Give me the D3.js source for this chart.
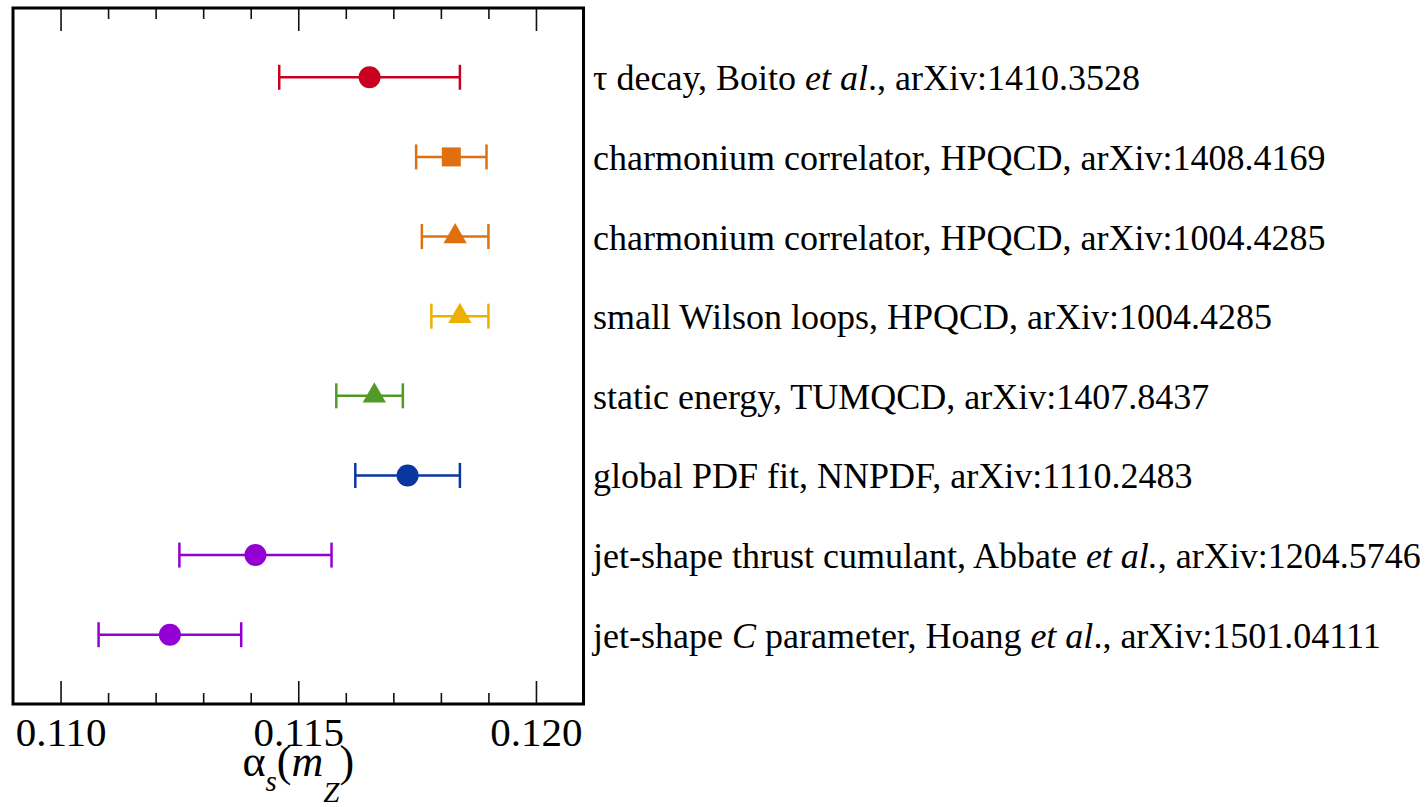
<!DOCTYPE html>
<html>
<head>
<meta charset="utf-8">
<script src="https://cdn.jsdelivr.net/npm/d3@7"></script>
<style>
  body { margin: 0; background: #fff; }
</style>
</head>
<body>
<div id="chart"></div>
<script>
// Determinations of alpha_s(mZ), top to bottom
const labels = [
    [["τ decay, Boito ", false], ["et al", true], ["., arXiv:1410.3528", false]],
    [["charmonium correlator, HPQCD, arXiv:1408.4169", false]],
    [["charmonium correlator, HPQCD, arXiv:1004.4285", false]],
    [["small Wilson loops, HPQCD, arXiv:1004.4285", false]],
    [["static energy, TUMQCD, arXiv:1407.8437", false]],
    [["global PDF fit, NNPDF, arXiv:1110.2483", false]],
    [["jet-shape thrust cumulant, Abbate ", false], ["et al.", true], [", arXiv:1204.5746", false]],
    [["jet-shape ", false], ["C", true], [" parameter, Hoang ", false], ["et al", true], ["., arXiv:1501.04111", false]]
];
const centers = [0.1165, 0.11822, 0.1183, 0.1184, 0.1166, 0.1173, 0.1141, 0.1123];
const lows    = [0.1146, 0.11748, 0.1176, 0.1178, 0.1158, 0.1162, 0.1125, 0.1108];
const highs   = [0.1184, 0.11896, 0.1190, 0.1190, 0.1172, 0.1184, 0.1157, 0.1138];
const colors  = ["#c8001e", "#e0700f", "#e0700f", "#ebb000", "#519a2a", "#0a36a0", "#9400d3", "#9400d3"];
const shapes  = ["circle", "square", "triangle", "triangle", "triangle", "circle", "circle", "circle"];

const majorTicks = [0.110, 0.115, 0.120];
const minorTicks = [0.111, 0.112, 0.113, 0.114, 0.116, 0.117, 0.118, 0.119];

const width = 1425, height = 807;
const frame = { left: 13, top: 8, right: 583.5, bottom: 704 };
const serif = 'Liberation Serif, Times New Roman, DejaVu Serif, serif';

const svg = d3.select('#chart').append('svg')
    .attr('width', width)
    .attr('height', height)
    .attr('font-family', serif);

svg.append('rect').attr('width', width).attr('height', height).attr('fill', '#fff');

const x = d3.scaleLinear()
    .domain([0.109, 0.121])
    .range([frame.left, frame.right]);

const y = d3.scalePoint()
    .domain(d3.range(labels.length))
    .range([frame.top, frame.bottom])
    .padding(0.87);

// ticks on bottom and top edges (pointing inward)
function drawTicks(axisFn, ypos, values, len, fmt) {
    const g = svg.append('g')
        .attr('transform', `translate(0,${ypos})`)
        .call(axisFn(x).tickValues(values).tickSize(-len).tickSizeOuter(0).tickFormat(fmt));
    g.attr('font-family', serif);
    g.select('.domain').remove();
    g.selectAll('.tick line').attr('stroke', '#111').attr('stroke-width', 1.6);
    return g;
}
drawTicks(d3.axisBottom, frame.bottom, minorTicks, 11, () => '');
drawTicks(d3.axisTop, frame.top, minorTicks, 11, () => '');
drawTicks(d3.axisTop, frame.top, majorTicks, 23, () => '');
const bottomMajor = drawTicks(d3.axisBottom, frame.bottom, majorTicks, 23, d3.format('.3f'));
bottomMajor.selectAll('.tick text')
    .attr('y', 42)
    .attr('dy', 0)
    .attr('font-size', 41)
    .attr('font-family', serif)
    .attr('fill', '#000');

// axis title alpha_s(m_Z)
const title = svg.append('text')
    .attr('x', x(0.115))
    .attr('y', 776)
    .attr('text-anchor', 'middle')
    .attr('font-family', serif)
    .attr('font-size', 44);
title.append('tspan').text('α');
title.append('tspan').attr('font-size', 29).attr('font-style', 'italic').attr('dy', 15).text('s');
title.append('tspan').attr('dy', -15).text('(');
title.append('tspan').attr('font-style', 'italic').text('m');
title.append('tspan').attr('font-size', 29).attr('font-style', 'italic').attr('dy', 26).text('Z');
title.append('tspan').attr('dy', -26).text(')');

// error bars
const rows = svg.append('g').selectAll('g')
    .data(centers.map((c, i) => i))
    .join('g')
    .attr('transform', i => `translate(0,${y(i)})`);

rows.append('line')
    .attr('x1', i => x(lows[i]))
    .attr('x2', i => x(highs[i]))
    .attr('stroke', i => colors[i])
    .attr('stroke-width', 2.5);

rows.append('line')
    .attr('x1', i => x(lows[i])).attr('x2', i => x(lows[i]))
    .attr('y1', -12.5).attr('y2', 12.5)
    .attr('stroke', i => colors[i])
    .attr('stroke-width', 2.5);

rows.append('line')
    .attr('x1', i => x(highs[i])).attr('x2', i => x(highs[i]))
    .attr('y1', -12.5).attr('y2', 12.5)
    .attr('stroke', i => colors[i])
    .attr('stroke-width', 2.5);

// markers
const symbolTypes = { circle: d3.symbolCircle, square: d3.symbolSquare, triangle: d3.symbolTriangle };
const symbolSizes = { circle: Math.PI * 11 * 11, square: 19 * 19, triangle: 235 };
rows.append('path')
    .attr('transform', i => `translate(${x(centers[i])},0)`)
    .attr('d', i => d3.symbol().type(symbolTypes[shapes[i]]).size(symbolSizes[shapes[i]])())
    .attr('fill', i => colors[i]);

// labels to the right of the frame
const labelText = svg.append('g').selectAll('text')
    .data(labels)
    .join('text')
    .attr('x', 593)
    .attr('y', (d, i) => y(i) + 13)
    .attr('font-family', serif)
    .attr('font-size', 36);
labelText.selectAll('tspan')
    .data(d => d)
    .join('tspan')
    .attr('font-style', d => d[1] ? 'italic' : 'normal')
    .text(d => d[0]);

// frame
svg.append('rect')
    .attr('x', frame.left)
    .attr('y', frame.top)
    .attr('width', frame.right - frame.left)
    .attr('height', frame.bottom - frame.top)
    .attr('fill', 'none')
    .attr('stroke', '#000')
    .attr('stroke-width', 3);
</script>
</body>
</html>
